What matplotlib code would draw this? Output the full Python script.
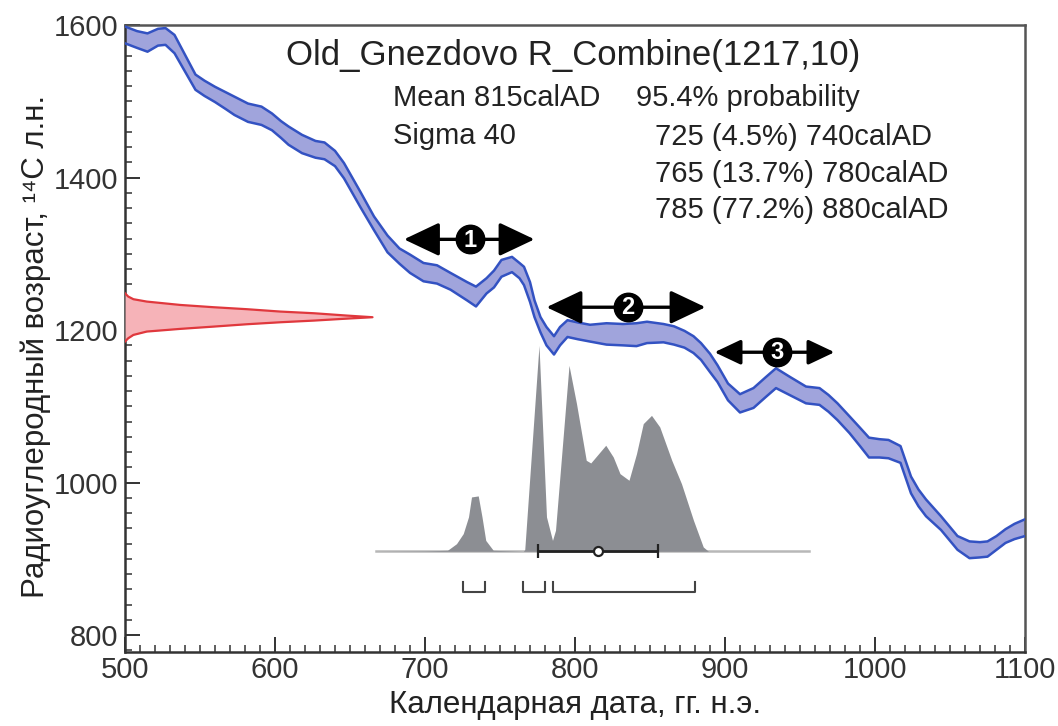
import numpy as np
import matplotlib
matplotlib.use("Agg")
import matplotlib.pyplot as plt
from matplotlib.ticker import MultipleLocator

plt.rcParams['font.family'] = ['Liberation Sans', 'DejaVu Sans']

# ---------------- data ----------------
cal_year = [500, 508, 515, 522, 527, 533, 540, 547, 553, 560, 567, 573, 582, 591, 598,
            604, 609, 618, 627, 633, 640, 646, 657, 666, 675, 683, 690, 699, 708, 717,
            728, 734, 741, 746, 751, 758, 763, 766, 770, 773, 777, 781, 786, 790, 795,
            802, 810, 821, 832, 841, 848, 859, 866, 873, 879, 884, 890, 895, 902, 910,
            919, 927, 934, 943, 954, 963, 969, 975, 983, 990, 996, 1003, 1009, 1017, 1024,
            1029, 1034, 1044, 1055, 1063, 1070, 1075, 1081, 1087, 1093, 1100]
c14_age = [1587, 1581, 1577, 1584, 1585, 1575, 1550, 1525, 1517, 1509, 1501, 1494, 1485, 1481, 1473,
           1463, 1455, 1444, 1437, 1435, 1425, 1409, 1371, 1340, 1313, 1297, 1287, 1276, 1273, 1264,
           1251, 1244, 1258, 1267, 1281, 1286, 1278, 1271, 1250, 1228, 1207, 1192, 1180, 1192, 1202,
           1199, 1196, 1195, 1194, 1194, 1197, 1196, 1193, 1188, 1181, 1172, 1157, 1143, 1119, 1104,
           1111, 1125, 1137, 1127, 1115, 1113, 1104, 1093, 1076, 1060, 1046, 1045, 1044, 1037, 997,
           980, 967, 947, 921, 912, 912, 913, 921, 930, 936, 941]
c14_err = [11, 11, 12, 11, 11, 12, 11, 10, 10, 10, 11, 12, 12, 12, 11,
           11, 12, 12, 11, 11, 10, 10, 10, 9, 11, 10, 12, 12, 12, 11,
           12, 13, 10, 11, 11, 10, 10, 12, 13, 11, 10, 12, 12, 12, 11,
           11, 11, 14, 14, 15, 14, 12, 12, 11, 11, 11, 12, 11, 11, 12,
           13, 13, 13, 12, 11, 11, 11, 11, 11, 12, 13, 12, 12, 11, 11,
           11, 11, 9, 9, 11, 10, 10, 9, 9, 10, 11]

# measured radiocarbon date (relative density, peak = 1)
red_age = [1185, 1189.3, 1193.7, 1198.1, 1201.6, 1204.6, 1207.7, 1210.3, 1212.5, 1215.1, 1216.9,
           1219, 1222.1, 1224.3, 1227.4, 1230, 1233, 1237.4, 1240.5, 1244, 1248.3]
red_dens = [0, 0.013, 0.034, 0.088, 0.223, 0.358, 0.493, 0.628, 0.764, 0.899, 1.0,
            0.899, 0.764, 0.628, 0.493, 0.358, 0.223, 0.088, 0.034, 0.013, 0]

# calibrated probability (percent of maximum)
prob_year = [667, 700, 715, 721, 725.5, 729, 731, 735.5, 738, 740.5, 745.5, 765.5, 766.5, 776,
             781, 785, 787, 796, 801, 807.5, 810.5, 820.5, 825.5, 830, 836, 841, 845.5, 851,
             856.5, 864.5, 871, 879, 885.5, 889, 956]
prob_val = [0, 0.2, 0.5, 3.7, 8.6, 16.7, 26.4, 26.9, 16.7, 5.3, 0.5, 0, 0.8, 100,
            16.7, 5.3, 10.2, 90.3, 71.7, 44.2, 42.9, 51.5, 45.8, 37.7, 34.5, 47.4, 62, 66,
            60.4, 44.2, 32.8, 15, 2.1, 0, 0]

ranges_954 = [(725, 740), (765, 780), (785, 880)]
mean_date, sigma_date = 815, 40

zones = [(686, 773, 1319, 730, '1'), (781, 887, 1230, 835.5, '2'), (893, 973, 1171, 934.5, '3')]

title = "Old_Gnezdovo R_Combine(1217,10)"
info_left = ["Mean 815calAD", "Sigma 40"]
info_right = ["95.4% probability", "725 (4.5%) 740calAD", "765 (13.7%) 780calAD", "785 (77.2%) 880calAD"]

# ---------------- figure ----------------
W, H = 1058, 726
fig = plt.figure(figsize=(W / 100, H / 100), dpi=100)
ax = fig.add_axes([125 / W, 1 - 652 / H, 900 / W, 627 / H])
ax.set_xlim(500, 1100)
ax.set_ylim(778, 1600)

x = np.array(cal_year, float)
c = np.array(c14_age, float)
e = np.array(c14_err, float)
ax.fill_between(x, c - e, c + e, color='#a0a4dc', lw=0, zorder=2)
ax.plot(x, c + e, color='#3352c2', lw=1.8, zorder=3)
ax.plot(x, c - e, color='#3352c2', lw=1.8, zorder=3)

# red measured distribution on y axis
red_scale = 165
ra = np.array(red_age)
rd = np.array(red_dens)
ax.fill_betweenx(ra, 500, 500 + rd * red_scale, color='#f6b3b8', lw=0, zorder=4)
ax.plot(500 + rd * red_scale, ra, color='#e0383d', lw=1.6, zorder=5)

# calibrated distribution
base = 910
pscale = 2.7
py = np.array(prob_year)
pv = np.array(prob_val)
ax.plot([prob_year[0], prob_year[-1]], [base, base], color='#b8b8b8', lw=1.8, zorder=2)
ax.fill_between(py, base, base + pv * pscale, color='#8c8e93', lw=0, zorder=2)

# mean +- sigma
ax.errorbar(mean_date, base, xerr=sigma_date, fmt='o', mfc='white', mec='#222222',
            ms=6.5, mew=1.6, ecolor='#222222', elinewidth=2, capsize=5, capthick=2, zorder=6)

# 95.4% range brackets
for a, b in ranges_954:
    ax.plot([a, a, b, b], [870, 857, 857, 870], color='#444444', lw=1.5, zorder=3)

# zone arrows
for i, (x0, x1, yy, xc, lab) in enumerate(zones):
    ms = 23 if i < 2 else 17
    ax.annotate('', xy=(x1, yy), xytext=(x0, yy),
                arrowprops=dict(arrowstyle='<|-|>,head_length=0.95,head_width=0.45',
                                lw=2.4, color='black', mutation_scale=ms,
                                shrinkA=0, shrinkB=0), zorder=7)
    ax.plot(xc, yy, 'o', ms=20.5, color='black', zorder=8)
    ax.text(xc, yy - 1, lab, color='white', fontsize=17, fontweight='bold',
            ha='center', va='center', zorder=9)

# axes styling
for s in ax.spines.values():
    s.set_linewidth(1.8)
    s.set_color('#333333')
ax.spines['top'].set_color('#555555')
ax.spines['right'].set_color('#555555')
ax.xaxis.set_major_locator(MultipleLocator(100))
ax.xaxis.set_minor_locator(MultipleLocator(10))
ax.yaxis.set_major_locator(MultipleLocator(200))
ax.yaxis.set_minor_locator(MultipleLocator(20))
ax.tick_params(which='both', direction='in', top=False, right=False, colors='#333333',
               labelsize=21)
ax.tick_params(which='major', length=11, width=1.4)
ax.tick_params(which='minor', length=5, width=1.1)
ax.tick_params(axis='x', pad=3)
ax.tick_params(axis='y', pad=5)
for lbl in ax.get_xticklabels() + ax.get_yticklabels():
    lbl.set_color('#333333')

ax.set_xlabel("Календарная дата, гг. н.э.", fontsize=22.5, color='#222222')
ax.set_ylabel("Радиоуглеродный возраст, ¹⁴C л.н.", fontsize=22.5, color='#222222')
ax.xaxis.set_label_coords(0.5, -0.061)
ax.yaxis.set_label_coords(-0.082, 0.487)

def ftext(px, py_, s, **kw):
    fig.text(px / W, 1 - py_ / H, s, va='center', ha='left', color='#222222', **kw)

ftext(286, 55, title, fontsize=25)
ftext(393, 98, info_left[0], fontsize=21)
ftext(393, 136, info_left[1], fontsize=21)
ftext(636, 98, info_right[0], fontsize=21)
ftext(655, 137, info_right[1], fontsize=21)
ftext(655, 174, info_right[2], fontsize=21)
ftext(655, 210, info_right[3], fontsize=21)

fig.savefig("out.png", dpi=100)
